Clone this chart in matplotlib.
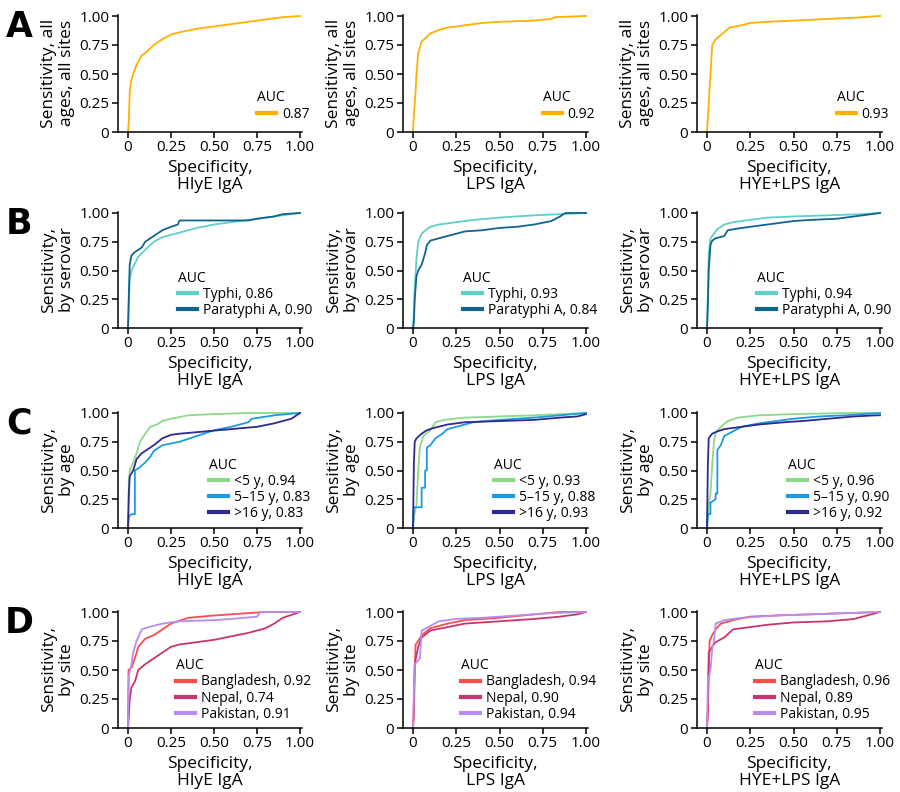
import matplotlib
matplotlib.use("Agg")
import matplotlib.pyplot as plt

plt.rcParams['font.family'] = ['Open Sans', 'DejaVu Sans']

# ROC curves (x = specificity axis as drawn, y = sensitivity)
# row A: all ages, all sites
all_hlye_x = [0, 0.005, 0.01, 0.02, 0.03, 0.05, 0.08, 0.1, 0.15, 0.2, 0.25, 0.3, 0.4, 0.5, 0.6, 0.7, 0.8, 0.9, 1]
all_hlye_y = [0, 0.1, 0.35, 0.45, 0.5, 0.58, 0.66, 0.68, 0.75, 0.8, 0.84, 0.86, 0.89, 0.91, 0.93, 0.95, 0.97, 0.99, 1]
all_lps_x = [0, 0.005, 0.015, 0.02, 0.03, 0.05, 0.08, 0.1, 0.15, 0.2, 0.3, 0.4, 0.5, 0.6, 0.7, 0.8, 0.82, 1]
all_lps_y = [0, 0.15, 0.35, 0.5, 0.68, 0.78, 0.82, 0.85, 0.88, 0.9, 0.92, 0.94, 0.95, 0.955, 0.96, 0.975, 0.99, 1]
all_comb_x = [0, 0.01, 0.02, 0.03, 0.05, 0.1, 0.13, 0.2, 0.25, 0.35, 0.5, 0.7, 0.85, 1]
all_comb_y = [0, 0.25, 0.5, 0.75, 0.8, 0.86, 0.9, 0.92, 0.94, 0.95, 0.96, 0.975, 0.985, 1]

# row B: by serovar
typhi_hlye_x = [0, 0.005, 0.01, 0.02, 0.04, 0.06, 0.1, 0.15, 0.2, 0.3, 0.4, 0.5, 0.6, 0.7, 0.8, 0.9, 1]
typhi_hlye_y = [0, 0.2, 0.42, 0.5, 0.56, 0.62, 0.68, 0.75, 0.79, 0.83, 0.87, 0.9, 0.92, 0.94, 0.96, 0.98, 1]
para_hlye_x = [0, 0.005, 0.01, 0.02, 0.04, 0.08, 0.1, 0.15, 0.2, 0.25, 0.29, 0.3, 0.7, 0.75, 0.85, 0.9, 1]
para_hlye_y = [0, 0.3, 0.55, 0.63, 0.66, 0.7, 0.75, 0.8, 0.85, 0.88, 0.9, 0.935, 0.935, 0.95, 0.97, 0.99, 1]
typhi_lps_x = [0, 0.005, 0.01, 0.02, 0.03, 0.05, 0.08, 0.1, 0.15, 0.25, 0.35, 0.5, 0.7, 0.85, 1]
typhi_lps_y = [0, 0.15, 0.35, 0.6, 0.75, 0.82, 0.86, 0.88, 0.9, 0.92, 0.94, 0.96, 0.98, 0.99, 1]
para_lps_x = [0, 0.005, 0.01, 0.02, 0.03, 0.05, 0.07, 0.08, 0.1, 0.15, 0.2, 0.25, 0.3, 0.4, 0.5, 0.6, 0.7, 0.8, 0.85, 0.88, 1]
para_lps_y = [0, 0.05, 0.25, 0.45, 0.5, 0.55, 0.65, 0.72, 0.76, 0.78, 0.8, 0.82, 0.84, 0.85, 0.87, 0.88, 0.9, 0.93, 0.97, 1.0, 1]
typhi_comb_x = [0, 0.005, 0.01, 0.02, 0.04, 0.06, 0.1, 0.15, 0.25, 0.35, 0.5, 0.7, 0.9, 1]
typhi_comb_y = [0, 0.3, 0.65, 0.78, 0.82, 0.86, 0.9, 0.92, 0.94, 0.96, 0.97, 0.98, 0.99, 1]
para_comb_x = [0, 0.005, 0.01, 0.02, 0.03, 0.05, 0.1, 0.12, 0.2, 0.3, 0.4, 0.5, 0.6, 0.75, 0.85, 0.9, 1]
para_comb_y = [0, 0.2, 0.5, 0.72, 0.76, 0.78, 0.8, 0.85, 0.87, 0.89, 0.91, 0.93, 0.94, 0.95, 0.97, 0.98, 1]

# row C: by age
u5_hlye_x = [0, 0.005, 0.01, 0.03, 0.05, 0.07, 0.1, 0.13, 0.17, 0.2, 0.25, 0.35, 0.5, 0.7, 1]
u5_hlye_y = [0, 0.4, 0.5, 0.57, 0.65, 0.75, 0.82, 0.88, 0.9, 0.93, 0.95, 0.98, 0.99, 1, 1]
a515_hlye_x = [0, 0.005, 0.02, 0.04, 0.04, 0.07, 0.1, 0.13, 0.15, 0.2, 0.3, 0.4, 0.5, 0.6, 0.7, 0.72, 0.85, 1]
a515_hlye_y = [0, 0.1, 0.12, 0.12, 0.5, 0.53, 0.57, 0.62, 0.67, 0.72, 0.75, 0.8, 0.85, 0.88, 0.92, 0.95, 0.98, 1]
o16_hlye_x = [0, 0.005, 0.01, 0.03, 0.05, 0.08, 0.15, 0.2, 0.25, 0.3, 0.45, 0.6, 0.75, 0.85, 0.95, 1]
o16_hlye_y = [0, 0.3, 0.45, 0.5, 0.6, 0.65, 0.72, 0.78, 0.81, 0.82, 0.84, 0.86, 0.88, 0.91, 0.95, 1]
u5_lps_x = [0, 0.005, 0.02, 0.03, 0.04, 0.06, 0.1, 0.13, 0.18, 0.3, 0.5, 0.7, 0.85, 1]
u5_lps_y = [0, 0.1, 0.2, 0.5, 0.7, 0.8, 0.85, 0.92, 0.94, 0.96, 0.97, 0.98, 0.99, 1]
a515_lps_x = [0, 0.005, 0.05, 0.05, 0.07, 0.07, 0.08, 0.08, 0.1, 0.13, 0.17, 0.2, 0.25, 0.35, 0.5, 0.7, 0.85, 1]
a515_lps_y = [0, 0.18, 0.18, 0.35, 0.35, 0.5, 0.5, 0.7, 0.72, 0.78, 0.82, 0.86, 0.88, 0.92, 0.94, 0.96, 0.98, 1]
o16_lps_x = [0, 0.005, 0.01, 0.02, 0.05, 0.08, 0.12, 0.2, 0.3, 0.5, 0.7, 0.85, 0.95, 1]
o16_lps_y = [0, 0.55, 0.75, 0.78, 0.82, 0.85, 0.87, 0.9, 0.92, 0.93, 0.94, 0.96, 0.97, 0.99]
u5_comb_x = [0, 0.01, 0.02, 0.03, 0.04, 0.05, 0.08, 0.12, 0.18, 0.3, 0.5, 0.8, 1]
u5_comb_y = [0, 0.2, 0.3, 0.55, 0.75, 0.83, 0.88, 0.93, 0.96, 0.98, 0.99, 1, 1]
a515_comb_x = [0, 0.005, 0.02, 0.02, 0.05, 0.05, 0.06, 0.06, 0.08, 0.1, 0.15, 0.2, 0.3, 0.4, 0.5, 0.65, 0.8, 1]
a515_comb_y = [0, 0.12, 0.12, 0.22, 0.25, 0.3, 0.3, 0.68, 0.72, 0.8, 0.84, 0.88, 0.91, 0.93, 0.95, 0.97, 0.98, 1]
o16_comb_x = [0, 0.005, 0.01, 0.03, 0.06, 0.1, 0.2, 0.3, 0.45, 0.55, 0.7, 0.85, 0.98, 1]
o16_comb_y = [0, 0.55, 0.78, 0.82, 0.84, 0.86, 0.88, 0.9, 0.92, 0.93, 0.95, 0.97, 0.98, 0.98]

# row D: by site
bgd_hlye_x = [0, 0.003, 0.02, 0.04, 0.06, 0.1, 0.15, 0.2, 0.25, 0.35, 0.5, 0.65, 0.8, 1]
bgd_hlye_y = [0, 0.5, 0.52, 0.6, 0.7, 0.77, 0.8, 0.85, 0.9, 0.95, 0.97, 0.985, 1, 1]
npl_hlye_x = [0, 0.005, 0.01, 0.02, 0.04, 0.06, 0.1, 0.15, 0.2, 0.25, 0.3, 0.4, 0.5, 0.6, 0.7, 0.8, 0.85, 0.9, 1]
npl_hlye_y = [0, 0.1, 0.25, 0.35, 0.4, 0.5, 0.55, 0.6, 0.65, 0.7, 0.72, 0.74, 0.76, 0.79, 0.82, 0.86, 0.9, 0.95, 1]
pak_hlye_x = [0, 0.005, 0.02, 0.03, 0.05, 0.08, 0.12, 0.2, 0.3, 0.5, 0.6, 0.75, 0.77, 1]
pak_hlye_y = [0, 0.45, 0.55, 0.65, 0.75, 0.85, 0.87, 0.9, 0.92, 0.93, 0.94, 0.96, 1.0, 1]
bgd_lps_x = [0, 0.005, 0.01, 0.015, 0.03, 0.05, 0.1, 0.2, 0.3, 0.5, 0.7, 0.85, 1]
bgd_lps_y = [0, 0.1, 0.5, 0.72, 0.75, 0.8, 0.86, 0.9, 0.93, 0.95, 0.98, 1, 1]
npl_lps_x = [0, 0.005, 0.01, 0.03, 0.05, 0.1, 0.2, 0.3, 0.5, 0.7, 0.85, 0.95, 1]
npl_lps_y = [0, 0.2, 0.55, 0.7, 0.78, 0.84, 0.87, 0.9, 0.92, 0.94, 0.96, 0.98, 1]
pak_lps_x = [0, 0.005, 0.01, 0.04, 0.05, 0.1, 0.15, 0.25, 0.4, 0.6, 0.8, 1]
pak_lps_y = [0, 0.3, 0.55, 0.6, 0.84, 0.88, 0.92, 0.94, 0.95, 0.97, 0.99, 1]
bgd_comb_x = [0, 0.005, 0.01, 0.015, 0.03, 0.05, 0.08, 0.15, 0.25, 0.4, 0.6, 0.8, 1]
bgd_comb_y = [0, 0.15, 0.5, 0.75, 0.8, 0.85, 0.9, 0.93, 0.96, 0.97, 0.98, 0.99, 1]
npl_comb_x = [0, 0.005, 0.01, 0.03, 0.05, 0.1, 0.15, 0.25, 0.35, 0.5, 0.7, 0.85, 0.95, 1]
npl_comb_y = [0, 0.15, 0.65, 0.7, 0.74, 0.78, 0.85, 0.87, 0.89, 0.91, 0.92, 0.94, 0.98, 1]
pak_comb_x = [0, 0.005, 0.02, 0.03, 0.04, 0.05, 0.1, 0.2, 0.4, 0.6, 0.8, 1]
pak_comb_y = [0, 0.4, 0.5, 0.68, 0.75, 0.9, 0.93, 0.95, 0.97, 0.98, 0.99, 1]

assays = ["HlyE IgA", "LPS IgA", "HYE+LPS IgA"]
row_letters = ["A", "B", "C", "D"]
row_ylabels = ["Sensitivity, all\nages, all sites", "Sensitivity,\nby serovar",
               "Sensitivity,\nby age", "Sensitivity,\nby site"]

rows = [
    [[("0.87", all_hlye_x, all_hlye_y)],
     [("0.92", all_lps_x, all_lps_y)],
     [("0.93", all_comb_x, all_comb_y)]],
    [[("Typhi, 0.86", typhi_hlye_x, typhi_hlye_y), ("Paratyphi A, 0.90", para_hlye_x, para_hlye_y)],
     [("Typhi, 0.93", typhi_lps_x, typhi_lps_y), ("Paratyphi A, 0.84", para_lps_x, para_lps_y)],
     [("Typhi, 0.94", typhi_comb_x, typhi_comb_y), ("Paratyphi A, 0.90", para_comb_x, para_comb_y)]],
    [[("<5 y, 0.94", u5_hlye_x, u5_hlye_y), ("5\u201315 y, 0.83", a515_hlye_x, a515_hlye_y), (">16 y, 0.83", o16_hlye_x, o16_hlye_y)],
     [("<5 y, 0.93", u5_lps_x, u5_lps_y), ("5\u201315 y, 0.88", a515_lps_x, a515_lps_y), (">16 y, 0.93", o16_lps_x, o16_lps_y)],
     [("<5 y, 0.96", u5_comb_x, u5_comb_y), ("5\u201315 y, 0.90", a515_comb_x, a515_comb_y), (">16 y, 0.92", o16_comb_x, o16_comb_y)]],
    [[("Bangladesh, 0.92", bgd_hlye_x, bgd_hlye_y), ("Nepal, 0.74", npl_hlye_x, npl_hlye_y), ("Pakistan, 0.91", pak_hlye_x, pak_hlye_y)],
     [("Bangladesh, 0.94", bgd_lps_x, bgd_lps_y), ("Nepal, 0.90", npl_lps_x, npl_lps_y), ("Pakistan, 0.94", pak_lps_x, pak_lps_y)],
     [("Bangladesh, 0.96", bgd_comb_x, bgd_comb_y), ("Nepal, 0.89", npl_comb_x, npl_comb_y), ("Pakistan, 0.95", pak_comb_x, pak_comb_y)]],
]

row_colors = [
    ["#FFB000"],
    ["#5ED0C8", "#11648E"],
    ["#8DD88A", "#1B9BE0", "#2E2A8E"],
    ["#FF4A4A", "#C93470", "#B88CF0"],
]

W, H = 900, 792
col_x0 = [128, 413, 707]       # pixel of x=0
col_sc = [172, 173, 173]       # pixels per unit
row_y0 = [132, 328, 528, 728]  # pixel of y=0
row_sc = [116, 115, 115, 116]

XMIN, XMAX = -0.06, 1.01
YMIN, YMAX = 0, 1.01

# legend: data x of handle start, axes-fraction y of "AUC" title top
legend_x = [0.75, 0.29, 0.47, 0.28]
legend_ytop = [0.355, 0.495, 0.605, 0.595]

fig = plt.figure(figsize=(9, 7.92), dpi=100)

for r in range(4):
    for c in range(3):
        left = (col_x0[c] + XMIN * col_sc[c]) / W
        width = (XMAX - XMIN) * col_sc[c] / W
        bottom = 1 - (row_y0[r] - YMIN * row_sc[r]) / H
        height = (YMAX - YMIN) * row_sc[r] / H
        ax = fig.add_axes([left, bottom, width, height])
        for (lab, xs, ys), col in zip(rows[r][c], row_colors[r]):
            ax.plot(xs, ys, color=col, lw=1.3, label=lab)
        ax.set_xlim(XMIN, XMAX)
        ax.set_ylim(YMIN, YMAX)
        ticks = [0, 0.25, 0.5, 0.75, 1.0]
        ticklabels = ["0", "0.25", "0.50", "0.75", "1.00"]
        ax.set_xticks(ticks)
        ax.set_xticklabels(ticklabels)
        ax.set_yticks(ticks)
        ax.set_yticklabels(ticklabels)
        ax.tick_params(labelsize=11, length=4, width=1.1, pad=2)
        for s in ["top", "right"]:
            ax.spines[s].set_visible(False)
        for s in ["left", "bottom"]:
            ax.spines[s].set_linewidth(1.1)
        ax.set_xlabel("Specificity,\n" + assays[c], fontsize=12.5, linespacing=1.1, labelpad=3)
        ax.set_ylabel(row_ylabels[r], fontsize=12.5, linespacing=1.15, labelpad=3)
        ax_x = (legend_x[r] - XMIN) / (XMAX - XMIN)
        leg = ax.legend(title="AUC", loc="upper left", bbox_to_anchor=(ax_x, legend_ytop[r]),
                        frameon=False, fontsize=10, title_fontsize=10,
                        handlelength=1.35, handletextpad=0.45, labelspacing=0.08,
                        borderpad=0, borderaxespad=0)
        leg._legend_box.align = "left"
        for h in leg.get_lines():
            h.set_linewidth(3)
        if c == 0:
            top_px = row_y0[r] - row_sc[r]
            fig.text(19 / W, 1 - (top_px + 11) / H, row_letters[r],
                     fontsize=25, fontweight="bold", family="DejaVu Sans",
                     ha="center", va="center")

fig.savefig("out.png", dpi=100)
